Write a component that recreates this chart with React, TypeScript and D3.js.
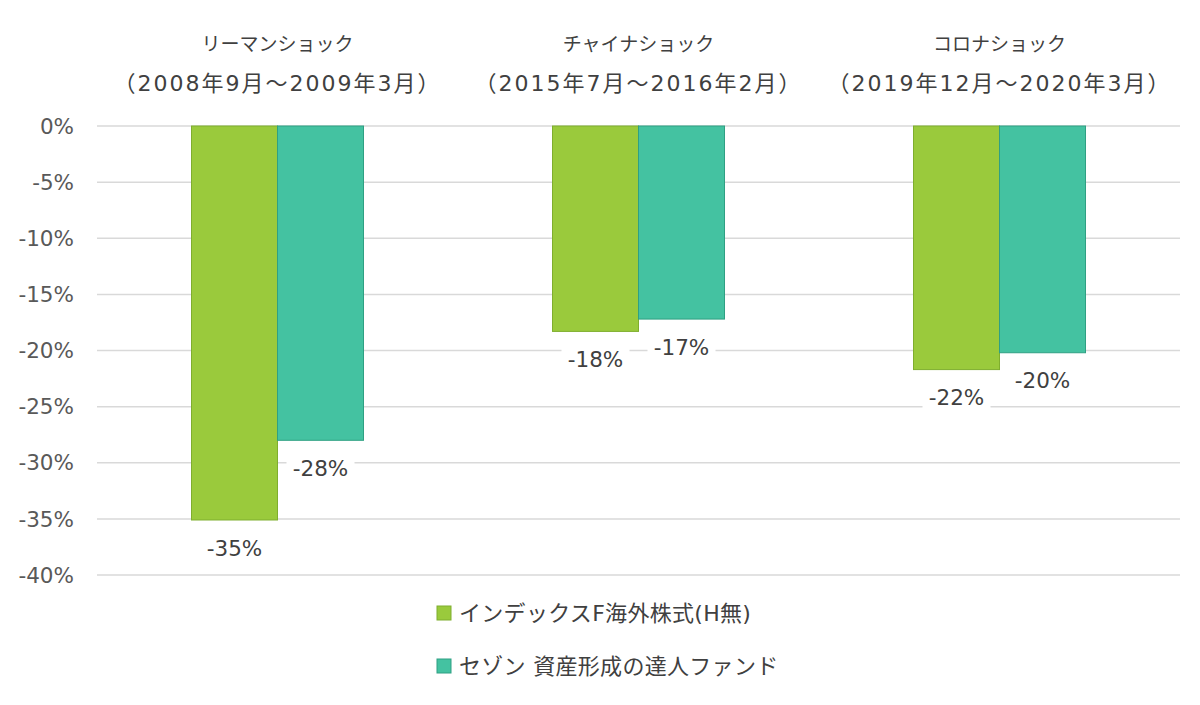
import React from "react";
import * as d3 from "d3";

const categories = ["リーマンショック", "チャイナショック", "コロナショック"];
const periods = ["（2008年9月～2009年3月）", "（2015年7月～2016年2月）", "（2019年12月～2020年3月）"];
const seriesNames = ["インデックスF海外株式(H無)", "セゾン 資産形成の達人ファンド"];
const seriesA = [-35.1, -18.3, -21.7];
const seriesB = [-28.0, -17.2, -20.2];
const yTicks = [0, -5, -10, -15, -20, -25, -30, -35, -40];
const labelsA = ["-35%", "-18%", "-22%"];
const labelsB = ["-28%", "-17%", "-20%"];

const colors = ["#9ACA3C", "#44C2A1"];
const strokes = ["#7FAE2E", "#2FA083"];

const W = 1200;
const H = 705;
const numFont = "'DejaVu Sans', 'Noto Sans CJK JP', sans-serif";
const jpFont = "'Noto Sans CJK JP', 'DejaVu Sans', sans-serif";

export default function App() {
  const x = d3.scaleBand<string>().domain(categories).range([97, 1180]).paddingInner(0).paddingOuter(0);
  const y = d3.scaleLinear().domain([-40, 0]).range([575, 126]);
  const barW = 86;
  const series = [seriesA, seriesB];
  const labels = [labelsA, labelsB];

  return (
    <svg width={W} height={H} style={{ display: "block", position: "absolute", left: 0, top: 0, background: "#fff" }}>
      <rect x={0} y={0} width={W} height={H} fill="#fff" />
      {yTicks.map((t) => (
        <g key={t}>
          <line x1={97} x2={1180} y1={y(t)} y2={y(t)} stroke="#D9D9D9" strokeWidth={1.5} />
          <text x={74} y={y(t)} dy="0.36em" textAnchor="end" fontFamily={numFont} fontSize={21.5} fill="#595959">
            {t}%
          </text>
        </g>
      ))}
      {categories.map((c, i) => {
        const cx = (x(c) as number) + x.bandwidth() / 2;
        return (
          <g key={c}>
            <text x={cx} y={44} dy="0.36em" textAnchor="middle" fontFamily={jpFont} fontSize={19} fill="#404040">
              {c}
            </text>
            <text x={cx} y={83} dy="0.36em" textAnchor="middle" fontFamily={numFont} fontSize={22} letterSpacing={2} fill="#404040">
              {periods[i]}
            </text>
          </g>
        );
      })}
      {series.map((s, si) =>
        categories.map((c, i) => {
          const cx = (x(c) as number) + x.bandwidth() / 2;
          const bx = cx - barW + si * barW;
          const v = s[i];
          const yb = y(v);
          const y0 = y(0);
          const ly = yb + 28;
          const lw = 68;
          return (
            <g key={si + "-" + c}>
              <rect x={bx} y={y0} width={barW} height={yb - y0} fill={colors[si]} stroke={strokes[si]} strokeWidth={1} />
              <rect x={bx + barW / 2 - lw / 2} y={ly - 14} width={lw} height={28} fill="#fff" />
              <text x={bx + barW / 2} y={ly} dy="0.36em" textAnchor="middle" fontFamily={numFont} fontSize={21.5} fill="#404040">
                {labels[si][i]}
              </text>
            </g>
          );
        })
      )}
      {seriesNames.map((n, i) => {
        const ly = 613 + i * 53;
        return (
          <g key={n}>
            <rect x={437} y={ly - 7} width={14} height={14} fill={colors[i]} stroke={strokes[i]} strokeWidth={1} />
            <text x={459} y={ly} dy="0.36em" fontFamily={numFont} fontSize={22} letterSpacing={0.3} fill="#404040">
              {n}
            </text>
          </g>
        );
      })}
    </svg>
  );
}
